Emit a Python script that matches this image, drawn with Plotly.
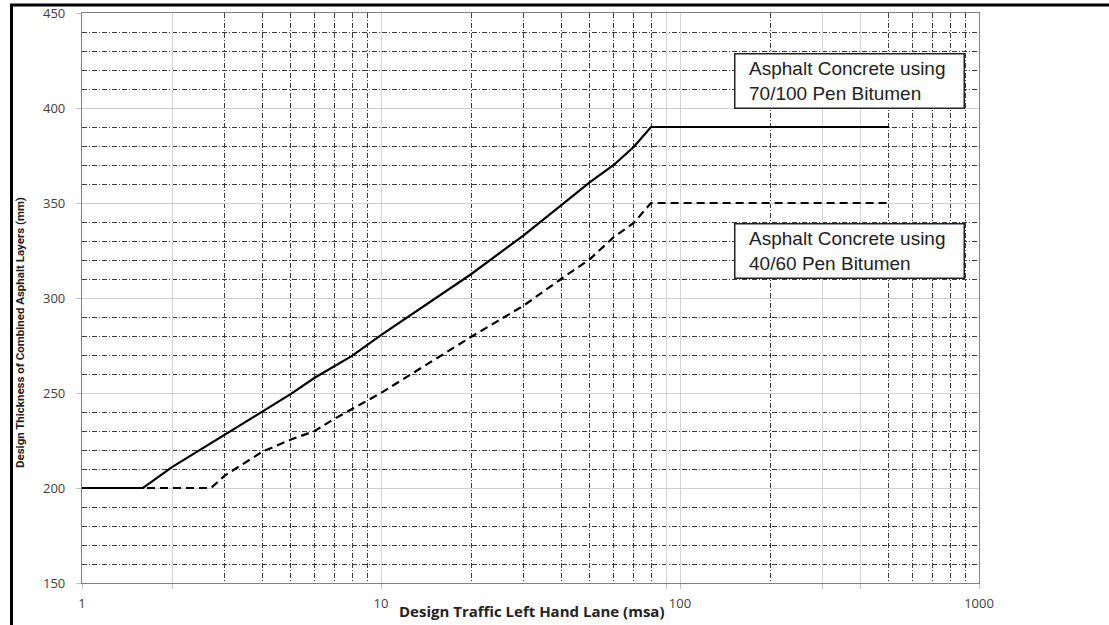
import plotly.graph_objects as go

# ---- data ----
traffic_70_100 = [1, 1.6, 2, 3, 4, 5, 6, 8, 10, 20, 30, 40, 50, 60, 70, 80, 500]
thick_70_100 = [200, 200, 211, 228, 240, 249.5, 258, 269.5, 280.5, 312.5, 333, 349, 361, 370, 379.5, 390, 390]

traffic_40_60 = [1, 2.7, 3, 4, 5, 6, 7, 8, 10, 20, 30, 40, 50, 60, 70, 80, 500]
thick_40_60 = [200, 200, 206.5, 219, 225.5, 230, 236.5, 241.5, 250, 279.5, 296, 310, 320.5, 332, 339.5, 350, 350]

label_70_100 = "&nbsp;&nbsp;Asphalt Concrete using<br>&nbsp;&nbsp;70/100 Pen Bitumen"
label_40_60 = "&nbsp;&nbsp;Asphalt Concrete using<br>&nbsp;&nbsp;40/60 Pen Bitumen"

# axis ticks / grid positions
x_major_vals = [1, 2, 10, 90, 100, 300, 400, 1000]
x_major_text = ["1", "", "10", "", "100", "", "", "1000"]
x_minor_vals = [3, 4, 5, 6, 7, 8, 9, 20, 30, 40, 50, 60, 70, 80, 200, 500, 600, 700, 800, 900]
y_range = [150, 450]

fig = go.Figure()
fig.add_trace(go.Scatter(x=traffic_40_60, y=thick_40_60, mode="lines",
                         line=dict(color="black", width=2.2, dash="8px,5px"),
                         name="40/60", showlegend=False))
fig.add_trace(go.Scatter(x=traffic_70_100, y=thick_70_100, mode="lines",
                         line=dict(color="black", width=2.2),
                         name="70/100", showlegend=False))

tickfont = dict(family="Open Sans, Arial, sans-serif", size=13, color="#404040")
dark_grid = dict(gridcolor="#3a3a3a", griddash="5px,2px,1px,2px", gridwidth=1)

fig.update_layout(
    width=1109, height=625,
    margin=dict(l=82, r=130, t=13, b=42, autoexpand=False),
    paper_bgcolor="white", plot_bgcolor="white",
    xaxis=dict(type="log", range=[0, 3], tickmode="array",
               tickvals=x_major_vals, ticktext=x_major_text,
               showgrid=True, gridcolor="#d4d4d4", gridwidth=1,
               ticks="outside", ticklen=5, tickcolor="#c0c0c0",
               showline=True, linecolor="#808080", linewidth=1.2, mirror=True,
               tickfont=tickfont, ticklabelstandoff=3, zeroline=False, automargin=False,
               minor=dict(tickmode="array", tickvals=x_minor_vals, showgrid=True, ticks="", **dark_grid)),
    yaxis=dict(range=y_range, tick0=150, dtick=50,
               showgrid=True, gridcolor="#d0d0d0", gridwidth=1,
               ticks="outside", ticklen=5, tickcolor="#c0c0c0",
               showline=True, linecolor="#808080", linewidth=1.2, mirror=True,
               tickfont=tickfont, ticklabelstandoff=8, zeroline=False, automargin=False,
               minor=dict(dtick=10, showgrid=True, ticks="", **dark_grid)),
)

# axis titles as annotations
fig.add_annotation(text="<b>Design Traffic Left Hand Lane (msa)</b>", xref="paper", yref="paper",
                   x=(531 - 82) / 897, y=(583 - 611) / 570, xanchor="center", yanchor="middle", showarrow=False,
                   font=dict(family="Open Sans, Arial, sans-serif", size=15, color="#222"))
fig.add_annotation(text="<b>Design Thickness of Combined Asphalt Layers (mm)</b>", xref="paper", yref="paper",
                   x=(20 - 82) / 897, y=(583 - 333) / 570, xanchor="center", yanchor="middle",
                   textangle=-90, showarrow=False,
                   font=dict(family="Roboto, DejaVu Sans Condensed, sans-serif",
                             size=11.5, color="#222"))

# legend boxes
for txt, ypx in [(label_70_100, 80.5), (label_40_60, 251.5)]:
    fig.add_annotation(text=txt, xref="paper", yref="paper",
                       x=(849 - 82) / 897, y=(583 - ypx) / 570, xanchor="center", yanchor="middle",
                       showarrow=False, align="left", width=222, height=47,
                       bgcolor="white", bordercolor="#222", borderwidth=1.5, borderpad=3,
                       font=dict(family="Liberation Sans, Arial, sans-serif", size=19, color="#222"))

# outer frame lines (page border of the scan)
fig.add_shape(type="line", xref="paper", yref="paper", x0=(10 - 82) / 897, x1=(1109 - 82) / 897,
              y0=(583 - 5) / 570, y1=(583 - 5) / 570, line=dict(color="black", width=3))
fig.add_shape(type="line", xref="paper", yref="paper", x0=(11.5 - 82) / 897, x1=(11.5 - 82) / 897,
              y0=(583 - 4) / 570, y1=(583 - 625) / 570, line=dict(color="black", width=3))

fig.write_html("out.html", config={"displayModeBar": False},
               post_script="document.body.style.margin='0px';")
